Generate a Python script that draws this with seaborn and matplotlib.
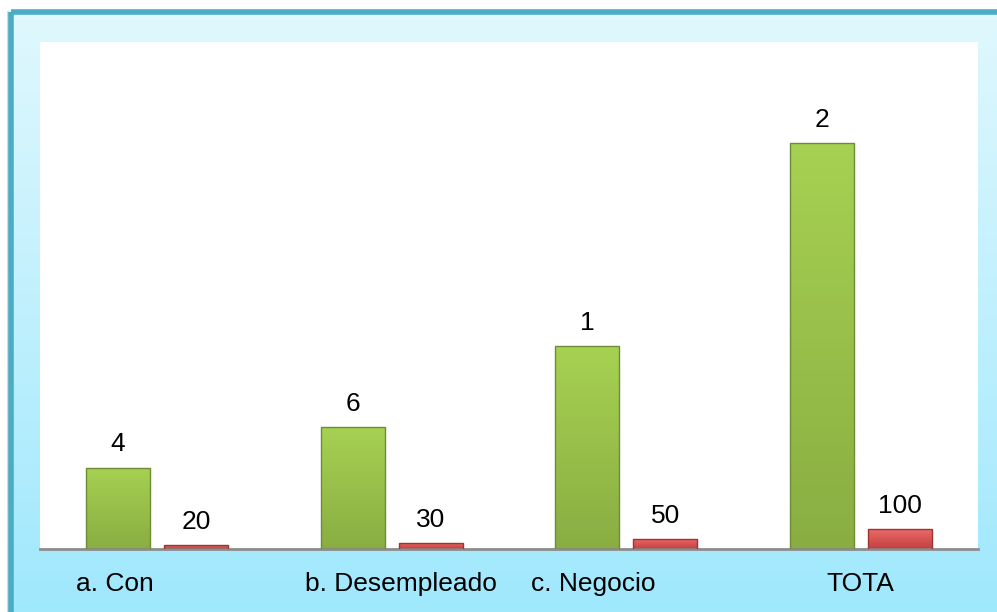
import matplotlib
matplotlib.use("Agg")
import matplotlib.pyplot as plt
import numpy as np
import pandas as pd
import seaborn as sns

# Datos del gráfico
categorias = ["a. Con", "b. Desempleado", "c. Negocio", "TOTA"]
serie_verde = [400, 600, 1000, 2000]
serie_roja = [20, 30, 50, 100]
etiquetas_verde = ["4", "6", "1", "2"]
etiquetas_roja = ["20", "30", "50", "100"]

df = pd.DataFrame({
    "categoria": categorias * 2,
    "valor": serie_verde + serie_roja,
    "serie": ["verde"] * 4 + ["roja"] * 4,
})

sns.set_theme(style="white")
plt.rcParams["font.family"] = ["Liberation Sans", "DejaVu Sans"]
plt.rcParams["text.color"] = "black"

W, H = 997, 612
fig = plt.figure(figsize=(W / 100, H / 100), dpi=100)

# Fondo con degradado celeste
bg = fig.add_axes([0, 0, 1, 1], zorder=-10)
grad = np.linspace(0, 1, 256).reshape(-1, 1)
top = np.array([0.878, 0.973, 0.996])
bot = np.array([0.627, 0.910, 0.992])
img = top[None, None, :] * (1 - grad[..., None]) + bot[None, None, :] * grad[..., None]
bg.imshow(img, aspect="auto", extent=[9, W, H, 10], zorder=0)
bg.set_xlim(0, W)
bg.set_ylim(H, 0)
bg.axis("off")
# borde exterior
bg.plot([11, 11], [12, H], color="#4BACC6", lw=4, solid_capstyle="butt", zorder=2)
bg.plot([11, W], [12, 12], color="#4BACC6", lw=4, solid_capstyle="butt", zorder=2)
bg.plot([8, 8], [12, H], color="#d8d8d8", lw=1.5, zorder=1)

ax = fig.add_axes([40 / W, 1 - 549 / H, (978 - 40) / W, (549 - 42) / H])
ax.set_facecolor("white")

sns.barplot(data=df, x="categoria", y="valor", hue="serie",
            palette={"verde": "#9BC850", "roja": "#D9504E"},
            width=0.667, gap=0.18, ax=ax, legend=False)

bordes = {"verde": "#6E8C36", "roja": "#9E3432"}
n = len(categorias)
for i, p in enumerate(ax.patches[:2 * n]):
    serie = "verde" if i < n else "roja"
    p.set_edgecolor(bordes[serie])
    p.set_linewidth(1.0)
    # degradado suave sobre la barra
    x0, w = p.get_x(), p.get_width()
    h = p.get_height()
    if serie == "verde":
        c_top, c_bot = np.array([0.65, 0.82, 0.32]), np.array([0.54, 0.68, 0.26])
    else:
        c_top, c_bot = np.array([0.93, 0.42, 0.42]), np.array([0.76, 0.25, 0.25])
    g = np.linspace(0, 1, 64).reshape(-1, 1)
    cimg = c_top[None, None, :] * (1 - g[..., None]) + c_bot[None, None, :] * g[..., None]
    im = ax.imshow(cimg, aspect="auto", extent=[x0, x0 + w, 0, h], zorder=2)
    im.set_clip_path(p)
    p.set_zorder(3)
    p.set_facecolor("none")

ax.set_xlim(-0.5, n - 0.5)
ax.set_ylim(0, 2500)

# etiquetas de datos
for i in range(n):
    ax.annotate(etiquetas_verde[i], (i - 0.167, serie_verde[i]), xytext=(0, 17),
                textcoords="offset points", ha="center", va="center",
                fontsize=19, color="black")
    ax.annotate(etiquetas_roja[i], (i + 0.167, serie_roja[i]), xytext=(0, 16.5),
                textcoords="offset points", ha="center", va="center",
                fontsize=19, color="black")

# etiquetas de categoría (texto recortado)
ax.set_xticks(range(n))
ax.set_xticklabels([])
desplaz = [-0.18, 0.04, -0.14, 0.0]
for i, c in enumerate(categorias):
    ax.text(i + desplaz[i], -0.069, c, transform=ax.get_xaxis_transform(),
            ha="center", va="center", fontsize=19, color="black")

ax.set_xlabel("")
ax.set_ylabel("")
ax.set_yticks([])
ax.tick_params(length=0)
for s in ["top", "right", "left"]:
    ax.spines[s].set_visible(False)
ax.spines["bottom"].set_color("#8c8c8c")
ax.spines["bottom"].set_linewidth(2)

fig.savefig("out.png", dpi=100)
